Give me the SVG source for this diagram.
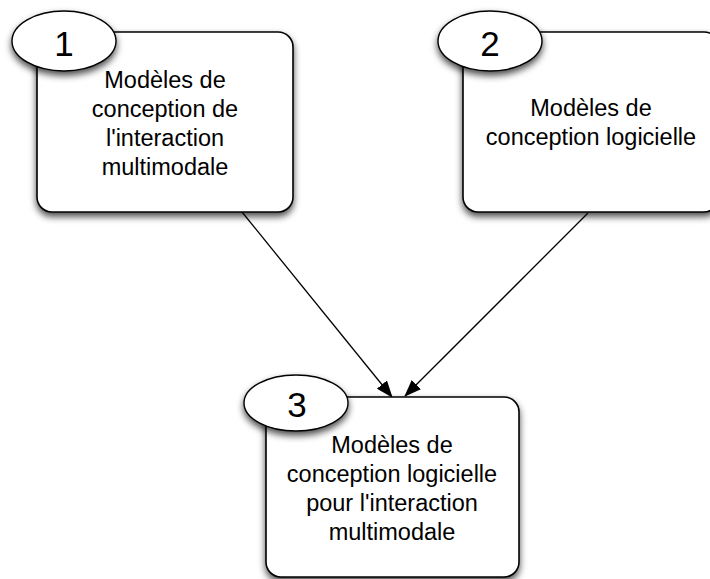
<svg xmlns="http://www.w3.org/2000/svg" width="710" height="579" viewBox="0 0 710 579">
  <defs>
    <filter id="shadow" x="-20%" y="-20%" width="140%" height="140%">
      <feDropShadow dx="0" dy="4" stdDeviation="3.5" flood-color="#000" flood-opacity="0.7"/>
    </filter>
    <marker id="arrow" markerWidth="17" markerHeight="13" refX="16" refY="6.5" orient="auto" markerUnits="userSpaceOnUse">
      <path d="M0,0 L17,6.5 L0,13 Z" fill="#000"/>
    </marker>
  </defs>
  <style>
    .box { fill: #fff; stroke: #000; stroke-width: 1.6; filter: url(#shadow); }
    .badge { fill: #fff; stroke: #000; stroke-width: 1.4; filter: url(#shadow); }
    .num { font-family: "Liberation Sans", Arial, sans-serif; font-size: 35px; fill: #000; text-anchor: middle; }
    .lbl { font-family: "Liberation Sans", Arial, sans-serif; font-size: 23.5px; fill: #000; text-anchor: middle; }
    .edge { stroke: #000; stroke-width: 1.3; fill: none; marker-end: url(#arrow); }
  </style>
  <rect width="710" height="579" fill="#fff"/>

  <g id="connectors">
    <line class="edge" x1="242" y1="212" x2="392" y2="397"/>
    <line class="edge" x1="588" y1="213" x2="405" y2="396"/>
  </g>

  <g id="node1">
    <rect class="box" x="37" y="32" width="256" height="180" rx="15" ry="15"/>
    <ellipse class="badge" cx="64" cy="41" rx="52" ry="30"/>
    <text class="num" x="64" y="56">1</text>
    <text class="lbl" x="165" y="88">Modèles de</text>
    <text class="lbl" x="165" y="117">conception de</text>
    <text class="lbl" x="165" y="146">l'interaction</text>
    <text class="lbl" x="165" y="175">multimodale</text>
  </g>

  <g id="node2">
    <rect class="box" x="463" y="32" width="256" height="180" rx="15" ry="15"/>
    <ellipse class="badge" cx="490" cy="41" rx="52" ry="30"/>
    <text class="num" x="490" y="56">2</text>
    <text class="lbl" x="591" y="116">Modèles de</text>
    <text class="lbl" x="591" y="145">conception logicielle</text>
  </g>

  <g id="node3">
    <rect class="box" x="266" y="397" width="253" height="180" rx="15" ry="15"/>
    <ellipse class="badge" cx="296" cy="403" rx="52" ry="28"/>
    <text class="num" x="297" y="417">3</text>
    <text class="lbl" x="392" y="453">Modèles de</text>
    <text class="lbl" x="392" y="482">conception logicielle</text>
    <text class="lbl" x="392" y="511">pour l'interaction</text>
    <text class="lbl" x="392" y="540">multimodale</text>
  </g>
</svg>
